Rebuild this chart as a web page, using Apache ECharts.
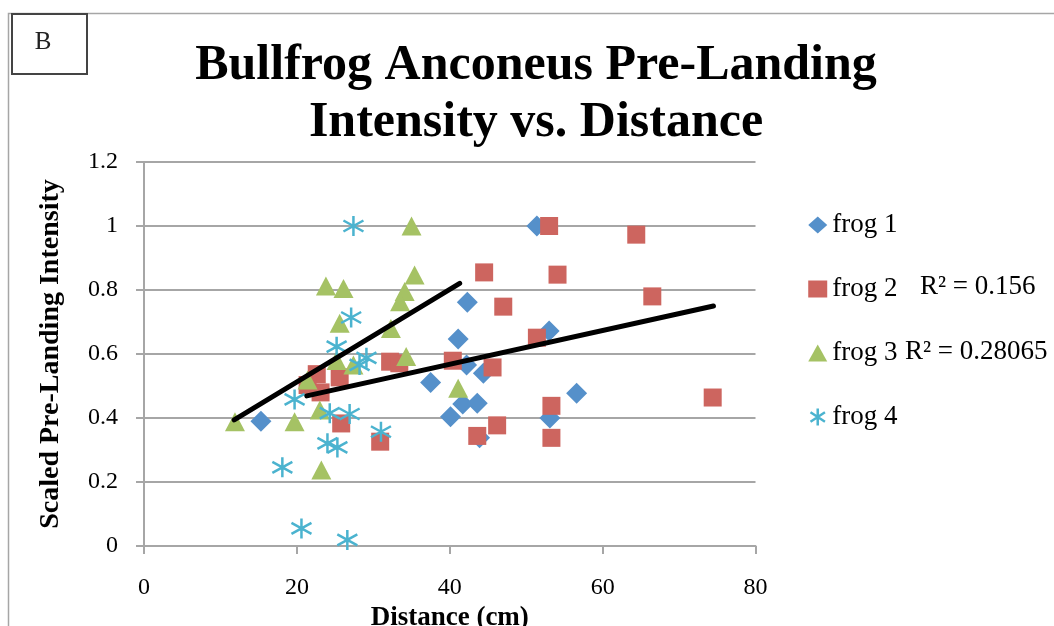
<!DOCTYPE html>
<html>
<head>
<meta charset="utf-8">
<script src="https://cdn.jsdelivr.net/npm/echarts@6/dist/echarts.min.js"></script>
<style>
html,body{margin:0;padding:0;background:#fff;}
#chart{width:1054px;height:626px;}
</style>
</head>
<body>
<div id="chart"></div>
<script>
// ---- data ----
const seriesNames = ['frog 1', 'frog 2', 'frog 3', 'frog 4'];
const frog1 = [[15.3,0.39],[51.4,1.0],[42.3,0.762],[41.1,0.647],[53.0,0.672],[37.5,0.511],[42.2,0.566],[44.4,0.54],[56.6,0.477],[41.7,0.444],[43.6,0.446],[40.1,0.404],[53.1,0.40],[43.9,0.338]];
const frog2 = [[53.0,1.0],[64.4,0.973],[44.5,0.855],[54.1,0.848],[66.5,0.78],[47.0,0.748],[51.4,0.651],[40.4,0.579],[45.6,0.558],[53.3,0.438],[74.4,0.464],[46.2,0.377],[43.6,0.344],[53.3,0.338],[22.6,0.537],[25.6,0.527],[23.1,0.48],[21.4,0.503],[25.8,0.383],[30.9,0.326],[32.2,0.576],[33.4,0.571]];
const frog3 = [[35.0,1.0],[23.8,0.8125],[26.1,0.805],[35.4,0.847],[34.1,0.795],[33.5,0.763],[25.6,0.696],[32.3,0.68],[34.3,0.592],[27.4,0.566],[25.2,0.58],[21.4,0.519],[11.9,0.388],[19.7,0.388],[23.0,0.425],[23.2,0.2375],[41.1,0.493]];
const frog4 = [[27.4,1.0],[27.1,0.714],[25.2,0.623],[29.1,0.588],[28.2,0.566],[19.7,0.458],[24.3,0.415],[26.9,0.4125],[31.0,0.357],[24.0,0.321],[25.3,0.308],[18.1,0.246],[20.6,0.055],[26.6,0.019]];
const trend2 = [[21.3,0.469],[74.5,0.75]];
const trend3 = [[11.8,0.394],[41.3,0.821]];
const xTicks = [0, 20, 40, 60, 80];
const yTicks = [0, 0.2, 0.4, 0.6, 0.8, 1.0, 1.2];
const r2Labels = ['R\u00B2 = 0.156', 'R\u00B2 = 0.28065'];
const titleLines = ['Bullfrog Anconeus Pre-Landing', 'Intensity vs. Distance'];
const xName = 'Distance (cm)';
const yName = 'Scaled Pre-Landing Intensity';
const panelLabel = 'B';

// ---- chart ----
const colors = ['#5590CA', '#CD655F', '#A5C264', '#4BB3CF'];
const asterisk = 'path://M10 0L10 20M1.5 4.5L18.5 15.5M1.5 15.5L18.5 4.5';
const serif = '"Liberation Serif", "DejaVu Serif", serif';
const gridColor = '#A6A6A6';

const chart = echarts.init(document.getElementById('chart'), null, {renderer: 'canvas'});
const option = {
  backgroundColor: '#fff',
  animation: false,
  grid: {left: 144, right: 298.5, top: 162, bottom: 80, containLabel: false, outerBoundsMode: 'none'},
  legend: {
    orient: 'vertical', left: 803, top: 206, itemGap: 36,
    itemWidth: 19, itemHeight: 17,
    textStyle: {fontFamily: serif, fontSize: 27, lineHeight: 28, color: '#000'},
    data: [
      {name: seriesNames[0], icon: 'diamond'},
      {name: seriesNames[1], icon: 'rect'},
      {name: seriesNames[2], icon: 'triangle'},
      {name: seriesNames[3], icon: asterisk, itemStyle: {color: 'none', borderColor: colors[3], borderWidth: 2.5}}
    ]
  },
  xAxis: {
    type: 'value', min: xTicks[0], max: xTicks[xTicks.length - 1], interval: xTicks[1] - xTicks[0],
    name: xName, nameLocation: 'middle', nameGap: 52,
    nameTextStyle: {fontFamily: serif, fontWeight: 'bold', fontSize: 27, color: '#000', verticalAlign: 'top'},
    axisLine: {show: true, lineStyle: {color: gridColor, width: 2}},
    axisTick: {show: true, inside: false, length: 8, lineStyle: {color: gridColor, width: 2}},
    axisLabel: {fontFamily: serif, fontSize: 24, color: '#000', margin: 30},
    splitLine: {show: false}
  },
  yAxis: {
    type: 'value', min: yTicks[0], max: yTicks[yTicks.length - 1], interval: 0.2,
    name: yName, nameLocation: 'middle', nameGap: 79, nameRotate: 90,
    nameTextStyle: {fontFamily: serif, fontWeight: 'bold', fontSize: 28, color: '#000'},
    axisLine: {show: true, lineStyle: {color: gridColor, width: 2}},
    axisTick: {show: true, inside: false, length: 8, lineStyle: {color: gridColor, width: 2}},
    axisLabel: {fontFamily: serif, fontSize: 24, color: '#000', margin: 26,
      formatter: v => String(Math.round(v * 10) / 10)},
    splitLine: {show: true, lineStyle: {color: gridColor, width: 2}}
  },
  series: [
    {name: seriesNames[0], type: 'scatter', data: frog1, symbol: 'diamond', symbolSize: [21, 21],
      itemStyle: {color: colors[0], opacity: 1}},
    {name: seriesNames[1], type: 'scatter', data: frog2, symbol: 'rect', symbolSize: [18, 18],
      itemStyle: {color: colors[1], opacity: 1}},
    {name: seriesNames[2], type: 'scatter', data: frog3, symbol: 'triangle', symbolSize: [20, 19],
      itemStyle: {color: colors[2], opacity: 1}},
    {name: seriesNames[3], type: 'scatter', data: frog4, symbol: asterisk, symbolSize: [20, 20],
      itemStyle: {color: 'none', borderColor: colors[3], borderWidth: 2.5, opacity: 1}},
    {name: 'trend 2', type: 'line', data: trend2, showSymbol: false, symbol: 'none', silent: true,
      lineStyle: {color: '#000', width: 5, cap: 'round'}, z: 5},
    {name: 'trend 3', type: 'line', data: trend3, showSymbol: false, symbol: 'none', silent: true,
      lineStyle: {color: '#000', width: 5, cap: 'round'}, z: 5}
  ],
  graphic: [
    {type: 'rect', shape: {x: 8.5, y: 13.5, width: 1200, height: 800}, style: {fill: 'none', stroke: '#A6A6A6', lineWidth: 1.5}, z: -1},
    {type: 'rect', shape: {x: 12, y: 14, width: 75, height: 60}, style: {fill: '#fff', stroke: '#444', lineWidth: 2}, z: 10},
    {type: 'text', x: 43, y: 42, style: {text: panelLabel, font: '25px ' + serif, fill: '#222', align: 'center', verticalAlign: 'middle'}, z: 11},
    {type: 'text', x: 536, y: 66, style: {text: titleLines[0], font: 'bold 50px ' + serif, fill: '#000', align: 'center', verticalAlign: 'middle'}, z: 11},
    {type: 'text', x: 536, y: 123, style: {text: titleLines[1], font: 'bold 50px ' + serif, fill: '#000', align: 'center', verticalAlign: 'middle'}, z: 11},
    {type: 'text', x: 920, y: 287, style: {text: r2Labels[0], font: '27px ' + serif, fill: '#000', align: 'left', verticalAlign: 'middle'}, z: 11},
    {type: 'text', x: 905, y: 352, style: {text: r2Labels[1], font: '27px ' + serif, fill: '#000', align: 'left', verticalAlign: 'middle'}, z: 11}
  ]
};
chart.setOption(option);
</script>
</body>
</html>
